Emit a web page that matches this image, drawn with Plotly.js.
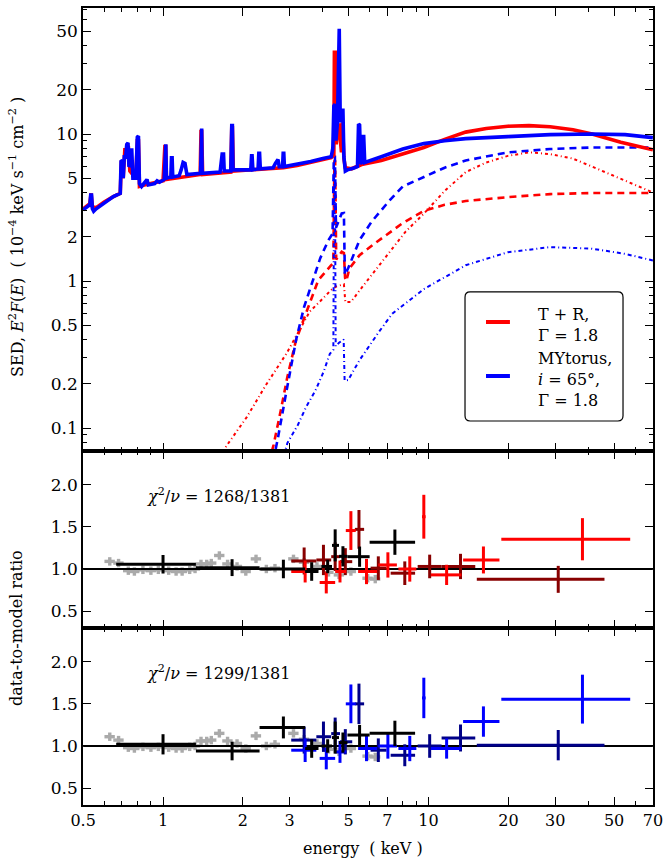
<!DOCTYPE html>
<html>
<head>
<meta charset="utf-8">
<script src="https://cdn.plot.ly/plotly-3.0.1.min.js"></script>
<style>
  html, body { margin: 0; padding: 0; background: #fff; }
  #myDiv { width: 663px; height: 863px; }
</style>
</head>
<body>
<div id="myDiv"></div>
<script>
// model curves, [energy keV, E^2 F(E)]
const trTotal = [
  [0.5, 3.1], [0.53, 3.35], [0.536, 3.95], [0.542, 3.2], [0.56, 3.15], [0.6, 3.45], [0.65, 3.75],
  [0.69, 3.95], [0.697, 6.6], [0.708, 5.0], [0.718, 7.8], [0.728, 7.8], [0.74, 8.3], [0.75, 5.6],
  [0.79, 5.0], [0.8, 9.0], [0.808, 9.0], [0.815, 4.4], [0.85, 4.5], [1.0, 4.8], [1.016, 8.2],
  [1.024, 8.2], [1.03, 4.9], [1.38, 5.3], [1.39, 10.4], [1.398, 10.4], [1.41, 5.3], [1.8, 5.5],
  [1.815, 11.0], [1.825, 11.0], [1.84, 5.6], [2.3, 5.75], [2.84, 5.9], [3.2, 6.1], [3.6, 6.4],
  [4.0, 6.7], [4.3, 6.9], [4.4, 7.2], [4.42, 36], [4.46, 36], [4.49, 8.5], [4.56, 11.5],
  [4.6, 11.5], [4.7, 7.5], [4.74, 12], [4.8, 6.8], [4.86, 5.9], [5.13, 5.8], [5.6, 6.2],
  [6.64, 6.6], [8.0, 7.3], [9.6, 8.1], [11.5, 9.2], [13.8, 10.3], [16.5, 10.9], [19.9, 11.3],
  [23.9, 11.4], [28.7, 11.2], [35, 10.7], [41.3, 10.0], [53, 8.8], [70, 7.8]
];
const trReflected = [
  [2.5, 0.058], [2.61, 0.077], [2.78, 0.133], [2.94, 0.223], [3.17, 0.397], [3.46, 0.6],
  [3.84, 1.01], [4.3, 1.28], [4.38, 1.32], [4.42, 6.5], [4.45, 6.5], [4.49, 1.4], [4.6, 1.5],
  [4.71, 1.58], [4.8, 1.55], [4.85, 1.05], [4.9, 1.0], [5.04, 1.22], [5.5, 1.5], [6.4, 1.85],
  [8.0, 2.48], [9.6, 3.0], [11.5, 3.3], [13.8, 3.5], [19.9, 3.72], [28.7, 3.9], [41.3, 3.97], [70, 3.97]
];
const trTransmitted = [
  [1.6, 0.06], [1.71, 0.073], [2.07, 0.119], [2.44, 0.196], [2.92, 0.322], [3.57, 0.62],
  [4.0, 0.76], [4.3, 0.87], [4.5, 0.92], [4.8, 0.95], [4.86, 0.72], [5.1, 0.72], [5.64, 0.915],
  [6.93, 1.46], [8.2, 2.17], [9.6, 2.87], [11.5, 4.1], [13.8, 5.5], [16.5, 6.4], [19.9, 7.1],
  [23.9, 7.5], [28.7, 7.3], [35, 6.8], [41.3, 6.0], [55, 4.8], [70, 4.0]
];
const myTotal = [
  [0.5, 3.05], [0.515, 3.15], [0.53, 3.3], [0.534, 3.85], [0.538, 3.85], [0.542, 3.1], [0.548, 2.98],
  [0.56, 3.1], [0.6, 3.4], [0.65, 3.75], [0.69, 3.95], [0.695, 6.5], [0.703, 6.6], [0.708, 5.0],
  [0.715, 7.2], [0.722, 6.8], [0.73, 8.5], [0.738, 8.7], [0.744, 6.0], [0.755, 6.2], [0.762, 8.0],
  [0.77, 5.0], [0.79, 5.0], [0.8, 9.5], [0.808, 9.7], [0.815, 4.6], [0.83, 4.4], [0.85, 4.6],
  [0.87, 4.9], [0.88, 4.5], [0.93, 4.6], [0.95, 4.8], [0.97, 4.7], [1.01, 4.9], [1.016, 8.5],
  [1.024, 8.5], [1.03, 5.0], [1.07, 5.1], [1.076, 6.9], [1.082, 6.9], [1.088, 5.1], [1.15, 5.2],
  [1.17, 5.7], [1.19, 6.4], [1.21, 6.3], [1.23, 5.3], [1.385, 5.4], [1.39, 10.9], [1.398, 10.9],
  [1.404, 5.4], [1.64, 5.5], [1.67, 7.3], [1.69, 7.3], [1.7, 5.6], [1.8, 5.6], [1.815, 11.4],
  [1.825, 11.4], [1.835, 5.7], [2.14, 5.7], [2.155, 7.1], [2.165, 7.1], [2.18, 5.7], [2.28, 5.8],
  [2.295, 7.4], [2.31, 7.4], [2.325, 5.8], [2.6, 5.9], [2.65, 6.3], [2.69, 6.7], [2.71, 6.7],
  [2.74, 6.0], [2.82, 6.0], [2.835, 7.4], [2.85, 7.4], [2.865, 6.0], [3.2, 6.2], [3.6, 6.5],
  [4.0, 6.8], [4.3, 7.0], [4.36, 8.0], [4.4, 15.5], [4.44, 16], [4.48, 9.0], [4.54, 12],
  [4.58, 52], [4.61, 52], [4.65, 12], [4.72, 14.5], [4.76, 14.5], [4.8, 7.0], [4.86, 5.6],
  [4.95, 5.7], [5.2, 5.85], [5.4, 6.0], [5.45, 11.7], [5.5, 11.5], [5.55, 6.4], [5.62, 6.3],
  [5.66, 9.6], [5.7, 9.6], [5.75, 6.4], [6.0, 6.6], [6.64, 7.0], [8.0, 7.9], [9.6, 8.6],
  [11.5, 9.0], [13.8, 9.3], [19.9, 9.6], [28.7, 9.9], [41.3, 10.0], [55, 9.9], [70, 9.45]
];
const myScattered = [
  [2.6, 0.06], [2.7, 0.083], [2.92, 0.18], [3.17, 0.397], [3.4, 0.668], [3.57, 0.87], [3.91, 1.43],
  [4.2, 1.9], [4.35, 2.1], [4.4, 7.0], [4.44, 7.0], [4.48, 2.3], [4.71, 2.88], [4.8, 2.9],
  [4.84, 1.1], [4.98, 1.22], [5.5, 1.9], [6.1, 2.53], [7.15, 3.55], [8.0, 4.4], [9.6, 5.1],
  [11.5, 5.9], [13.8, 6.6], [19.9, 7.5], [28.7, 7.9], [41.3, 8.1], [70, 8.1]
];
const myDirect = [
  [2.85, 0.065], [2.94, 0.079], [3.22, 0.105], [3.46, 0.139], [3.75, 0.18], [4.02, 0.24],
  [4.25, 0.32], [4.38, 0.34], [4.41, 6.0], [4.44, 6.0], [4.47, 0.36], [4.6, 0.38], [4.79, 0.4],
  [4.83, 0.21], [4.98, 0.212], [5.5, 0.29], [6.5, 0.45], [7.3, 0.6], [9.6, 0.88], [13.8, 1.28],
  [19.9, 1.57], [28.7, 1.7], [41.3, 1.66], [55, 1.53], [70, 1.38]
];

// ratio data, soft band (grey)
const softE = [0.63, 0.68, 0.74, 0.78, 0.84, 0.9, 0.96, 1.05, 1.12, 1.18, 1.26, 1.32, 1.39, 1.46, 1.52,
  1.63, 1.75, 1.9, 2.05, 2.24, 2.45, 2.64, 3.1, 3.4, 3.8, 4.2, 4.6, 5.1, 5.9, 6.3];
const midSoftR = [1.09, 1.07, 0.98, 0.97, 0.99, 0.98, 0.99, 0.98, 0.97, 0.97, 0.99, 1.0, 1.06, 1.06, 1.07,
  1.16, 1.06, 1.03, 0.97, 1.12, 1.0, 1.01, 1.12, 1.08, 1.03, 0.96, 0.93, 0.97, 0.89, 0.88];
const botSoftR = [1.11, 1.07, 0.98, 0.97, 0.99, 0.98, 0.99, 0.98, 0.97, 0.97, 0.99, 1.0, 1.06, 1.06, 1.07,
  1.15, 1.06, 1.03, 0.97, 1.12, 1.0, 1.02, 1.15, 1.08, 1.03, 0.96, 0.93, 0.97, 0.88, 0.87];
const softErr = 0.05;
const softHalfWidth = 0.045;

// black points
const xmmE = [1.0, 1.82, 2.84, 3.63, 4.17, 4.45, 4.76, 5.5, 7.47];
const xmmLo = [0.666, 1.33, 2.31, 3.43, 3.95, 4.33, 4.6, 4.95, 6.0];
const xmmHi = [1.33, 2.31, 3.43, 3.85, 4.33, 4.6, 4.95, 6.0, 8.9];
const midXmmR = [1.056, 1.016, 1.0, 0.97, 1.03, 1.28, 1.15, 1.146, 1.318];
const midXmmErr = [0.11, 0.1, 0.11, 0.11, 0.08, 0.19, 0.12, 0.12, 0.15];
const botXmmR = [1.02, 0.94, 1.22, 0.97, 1.0, 1.1, 1.04, 1.13, 1.15];
const botXmmErr = [0.12, 0.11, 0.13, 0.11, 0.08, 0.19, 0.12, 0.12, 0.15];

// red / blue points
const fpmaE = [3.43, 4.12, 4.64, 5.1, 5.84, 7.03, 8.5, 9.6, 11.7, 16.1, 38];
const fpmaLo = [3.04, 3.89, 4.45, 4.88, 5.43, 6.47, 7.7, 9.45, 10.2, 13.5, 18.8];
const fpmaHi = [3.78, 4.45, 4.9, 5.32, 6.4, 7.6, 9.0, 9.75, 13.3, 18.5, 57.5];
const midFpmaR = [0.97, 0.84, 0.97, 1.456, 0.97, 1.048, 1.0, 1.62, 0.93, 1.107, 1.353];
const midFpmaErr = [0.13, 0.13, 0.13, 0.23, 0.15, 0.15, 0.15, 0.26, 0.12, 0.16, 0.25];
const botFpmaR = [0.95, 0.853, 0.93, 1.5, 0.97, 1.0, 0.97, 1.57, 0.97, 1.29, 1.556];
const botFpmaErr = [0.14, 0.13, 0.13, 0.23, 0.15, 0.15, 0.15, 0.24, 0.12, 0.18, 0.29];

// dark red / navy points
const fpmbE = [3.40, 4.02, 4.45, 4.86, 5.47, 6.47, 8.14, 10.1, 13.2, 30.8];
const fpmbLo = [3.04, 3.78, 4.3, 4.64, 5.28, 6.05, 7.2, 9.1, 11.2, 15.2];
const fpmbHi = [3.78, 4.3, 4.64, 5.16, 5.72, 6.95, 8.9, 11.2, 15.0, 46];
const midFpmbR = [1.095, 1.107, 1.146, 1.087, 1.47, 1.01, 0.95, 1.03, 1.03, 0.877];
const midFpmbErr = [0.16, 0.18, 0.17, 0.16, 0.23, 0.14, 0.14, 0.14, 0.15, 0.16];
const botFpmbR = [1.07, 1.11, 1.147, 1.05, 1.5, 0.95, 0.89, 1.0, 1.095, 1.01];
const botFpmbErr = [0.16, 0.18, 0.19, 0.15, 0.24, 0.14, 0.13, 0.14, 0.16, 0.18];

const energyRange = [0.5, 70];
const unityRatio = [1, 1];

const xTickVals = [0.5, 1, 2, 3, 5, 7, 10, 20, 30, 50, 70];
const xTickText = ["0.5", "1", "2", "3", "5", "7", "10", "20", "30", "50", "70"];
const xMinorVals = [0.6, 0.7, 0.8, 0.9, 4, 6, 8, 9, 40, 60];
const sedTickVals = [0.1, 0.2, 0.5, 1, 2, 5, 10, 20, 50];
const sedTickText = ["0.1", "0.2", "0.5", "1", "2", "5", "10", "20", "50"];
const sedMinorVals = [0.08, 0.09, 0.3, 0.4, 0.6, 0.7, 0.8, 0.9, 3, 4, 6, 7, 8, 9, 30, 40, 60, 70];
const ratioTickVals = [0.5, 1, 1.5, 2];
const ratioTickText = ["0.5", "1.0", "1.5", "2.0"];

const FONT = "DejaVu Serif";

function curve(points, color, width, dash) {
  return {
    x: points.map(p => p[0]),
    y: points.map(p => p[1]),
    xaxis: "x",
    yaxis: "y",
    mode: "lines",
    line: { color: color, width: width, dash: dash },
    hoverinfo: "skip"
  };
}

function crosses(e, lo, hi, r, err, color, ax, thick) {
  return {
    x: e,
    y: r,
    xaxis: "x" + ax,
    yaxis: "y" + ax,
    mode: "markers",
    marker: { size: 1, color: color },
    error_x: {
      type: "data",
      symmetric: false,
      array: e.map((v, i) => hi[i] - v),
      arrayminus: e.map((v, i) => v - lo[i]),
      color: color,
      thickness: thick,
      width: 0
    },
    error_y: { type: "data", array: err, color: color, thickness: thick, width: 0 },
    hoverinfo: "skip"
  };
}

function softCrosses(r, ax) {
  let lo = softE.map(v => v * (1 - softHalfWidth));
  let hi = softE.map(v => v * (1 + softHalfWidth));
  let err = softE.map(() => softErr);
  return crosses(softE, lo, hi, r, err, "#aaaaaa", ax, 3.4);
}

function unityLine(ax) {
  return {
    x: energyRange,
    y: unityRatio,
    xaxis: "x" + ax,
    yaxis: "y" + ax,
    mode: "lines",
    line: { color: "#000", width: 2 },
    hoverinfo: "skip"
  };
}

let data = [];

// top panel
data.push(curve(trTransmitted, "#ff0000", 2, "3px,3px,1px,3px"));
data.push(curve(trReflected, "#ff0000", 2.6, "7px,5px"));
data.push(curve(myDirect, "#0000ff", 2, "4px,3px,1px,3px"));
data.push(curve(myScattered, "#0000ff", 2.6, "7px,5px"));
data.push(curve(trTotal, "#ff0000", 3.6, "solid"));
data.push(curve(myTotal, "#0000ff", 3.6, "solid"));

// middle panel
data.push(softCrosses(midSoftR, "2"));
data.push(unityLine("2"));
data.push(crosses(fpmbE, fpmbLo, fpmbHi, midFpmbR, midFpmbErr, "#880000", "2", 3));
data.push(crosses(fpmaE, fpmaLo, fpmaHi, midFpmaR, midFpmaErr, "#ff0000", "2", 3));
data.push(crosses(xmmE, xmmLo, xmmHi, midXmmR, midXmmErr, "#000000", "2", 3));

// bottom panel
data.push(softCrosses(botSoftR, "3"));
data.push(unityLine("3"));
data.push(crosses(fpmbE, fpmbLo, fpmbHi, botFpmbR, botFpmbErr, "#000088", "3", 3));
data.push(crosses(fpmaE, fpmaLo, fpmaHi, botFpmaR, botFpmaErr, "#0000ff", "3", 3));
data.push(crosses(xmmE, xmmLo, xmmHi, botXmmR, botXmmErr, "#000000", "3", 3));

function xAxis(anchor, labels) {
  return {
    type: "log",
    range: [Math.log10(energyRange[0] * 0.999), Math.log10(energyRange[1] * 1.001)],
    anchor: anchor,
    domain: [0, 1],
    tickvals: xTickVals,
    ticktext: xTickText,
    showticklabels: labels,
    ticklabeloverflow: "allow",
    ticks: "inside",
    ticklen: 8,
    tickwidth: 1.4,
    tickcolor: "#000",
    minor: { tickvals: xMinorVals, ticks: "inside", ticklen: 4, tickwidth: 1.2, tickcolor: "#000" },
    showline: true,
    linecolor: "#000",
    linewidth: 1.5,
    mirror: "allticks",
    showgrid: false,
    zeroline: false,
    tickfont: { family: FONT, size: 16, color: "#000" }
  };
}

function ratioAxis(domain, anchor) {
  return {
    range: [0.3, 2.4],
    domain: domain,
    anchor: anchor,
    tickvals: ratioTickVals,
    ticktext: ratioTickText,
    ticks: "inside",
    ticklen: 8,
    tickwidth: 1.4,
    tickcolor: "#000",
    showline: true,
    linecolor: "#000",
    linewidth: 1.5,
    mirror: "allticks",
    showgrid: false,
    zeroline: false,
    tickfont: { family: FONT, size: 17, color: "#000" }
  };
}

let xa2 = xAxis("y2", false);
xa2.matches = "x";
let xa3 = xAxis("y3", true);
xa3.matches = "x";

// legend box drawn by hand, rounded corners
let bx0 = 0.6702, bx1 = 0.9474, by0 = 0.4818, by1 = 0.6437, rx = 0.009, ry = 0.0065;
let boxPath =
  "M" + (bx0 + rx) + "," + by0 + " L" + (bx1 - rx) + "," + by0 +
  " Q" + bx1 + "," + by0 + " " + bx1 + "," + (by0 + ry) +
  " L" + bx1 + "," + (by1 - ry) +
  " Q" + bx1 + "," + by1 + " " + (bx1 - rx) + "," + by1 +
  " L" + (bx0 + rx) + "," + by1 +
  " Q" + bx0 + "," + by1 + " " + bx0 + "," + (by1 - ry) +
  " L" + bx0 + "," + (by0 + ry) +
  " Q" + bx0 + "," + by0 + " " + (bx0 + rx) + "," + by0 + " Z";

let textFont = { family: FONT, size: 16, color: "#000" };

let layout = {
  width: 663,
  height: 863,
  margin: { l: 83, r: 10, t: 8, b: 58 },
  paper_bgcolor: "#fff",
  plot_bgcolor: "#fff",
  showlegend: false,
  font: { family: FONT, size: 16, color: "#000" },
  xaxis: xAxis("y", false),
  xaxis2: xa2,
  xaxis3: xa3,
  yaxis: {
    type: "log",
    range: [-1.156, 1.857],
    domain: [0.4442, 1],
    anchor: "x",
    tickvals: sedTickVals,
    ticktext: sedTickText,
    ticks: "inside",
    ticklen: 8,
    tickwidth: 1.4,
    tickcolor: "#000",
    minor: { tickvals: sedMinorVals, ticks: "inside", ticklen: 4, tickwidth: 1.2, tickcolor: "#000" },
    showline: true,
    linecolor: "#000",
    linewidth: 1.5,
    mirror: "allticks",
    showgrid: false,
    zeroline: false,
    tickfont: { family: FONT, size: 17, color: "#000" }
  },
  yaxis2: ratioAxis([0.2221, 0.4442], "x2"),
  yaxis3: ratioAxis([0, 0.2221], "x3"),
  shapes: [
    { type: "path", xref: "paper", yref: "paper", path: boxPath,
      line: { color: "#000", width: 1.2 }, fillcolor: "#fff" },
    { type: "line", xref: "paper", yref: "paper", x0: 0.707, x1: 0.749, y0: 0.606, y1: 0.606,
      line: { color: "#ff0000", width: 4 } },
    { type: "line", xref: "paper", yref: "paper", x0: 0.707, x1: 0.749, y0: 0.5383, y1: 0.5383,
      line: { color: "#0000ff", width: 4 } }
  ],
  annotations: [
    { xref: "paper", yref: "paper", x: 0.7947, y: 0.6023, xanchor: "left", yanchor: "middle",
      align: "left", showarrow: false, font: textFont, text: "T + R,<br>Γ = 1.8" },
    { xref: "paper", yref: "paper", x: 0.7947, y: 0.5345, xanchor: "left", yanchor: "middle",
      align: "left", showarrow: false, font: textFont,
      text: "MYtorus,<br><i>i</i> = 65°,<br>Γ = 1.8" },
    { xref: "paper", yref: "paper", x: 0.109, y: 0.388, xanchor: "left", yanchor: "middle",
      showarrow: false, font: textFont, text: "<i>χ</i><sup>2</sup>/<i>ν</i> = 1268/1381" },
    { xref: "paper", yref: "paper", x: 0.109, y: 0.166, xanchor: "left", yanchor: "middle",
      showarrow: false, font: textFont, text: "<i>χ</i><sup>2</sup>/<i>ν</i> = 1299/1381" },
    { xref: "paper", yref: "paper", x: -0.1158, y: 0.7127, xanchor: "center", yanchor: "middle",
      textangle: -90, showarrow: false, font: textFont,
      text: "SED, <i>E</i><sup>2</sup><i>F</i>(<i>E</i>)  ( 10<sup>−4</sup> keV s<sup>−1</sup> cm<sup>−2</sup> )" },
    { xref: "paper", yref: "paper", x: -0.1158, y: 0.2221, xanchor: "center", yanchor: "middle",
      textangle: -90, showarrow: false, font: textFont, text: "data-to-model ratio" },
    { xref: "paper", yref: "paper", x: 0.491, y: -0.054, xanchor: "center", yanchor: "middle",
      showarrow: false, font: textFont, text: "energy  ( keV )" }
  ]
};

Plotly.newPlot("myDiv", data, layout, { displayModeBar: false });
</script>
</body>
</html>
